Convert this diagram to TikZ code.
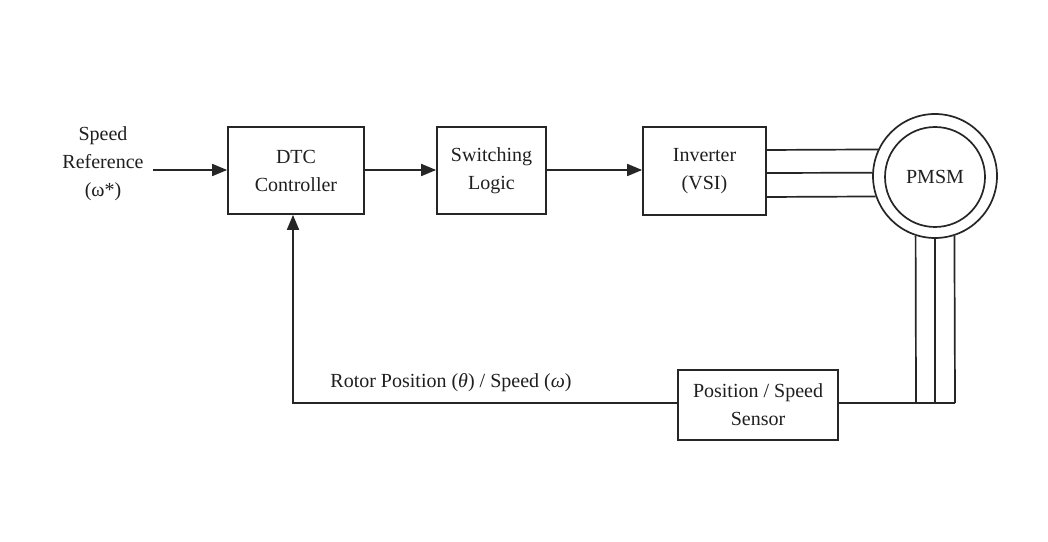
\documentclass[tikz,border=0pt]{standalone}
\usepackage{fontspec}
\setmainfont{Liberation Serif}
\usetikzlibrary{arrows.meta,calc}
\begin{document}
\begin{tikzpicture}[x=1pt,y=1pt,
  every node/.style={font=\fontsize{20}{28}\selectfont, text=black!88, align=center},
  blk/.style={draw, line width=1.7pt, inner sep=0pt},
  wire/.style={line width=1.7pt},
  sig/.style={line width=1.7pt, -{Triangle[length=15pt,width=12pt]}}]
  \useasboundingbox[fill=white] (0,0) rectangle (1048,541);
  \tikzset{every path/.append style={draw=black!85}}

  % blocks
  \node[blk, minimum width=136pt, minimum height=87pt] (dtc) at (296,370.5) {DTC\\Controller};
  \node[blk, minimum width=109pt, minimum height=87pt] (sw) at (491.5,370.5) {Switching\\Logic};
  \node[blk, minimum width=123pt, minimum height=88pt] (inv) at (704.5,370) {Inverter\\(VSI)};
  \node[blk, minimum width=160pt, minimum height=70pt] (sen) at (758,136) {Position / Speed\\Sensor};

  % motor: stator and rotor rings
  \node[draw, wire, circle, minimum size=124pt, inner sep=0pt] (mot) at (935,365) {};
  \node[draw, wire, circle, minimum size=100pt, inner sep=0pt] (rot) at (935,364) {PMSM};

  % input label and forward path
  \node (ref) at (103,377) {Speed\\Reference\\(ω*)};
  \coordinate (in) at (153,371);
  \draw[sig] (in) -- (in -| dtc.west);
  \draw[sig] (dtc.east |- in) -- (in -| sw.west);
  \draw[sig] (sw.east |- in) -- (in -| inv.west);

  % three-phase supply to the motor
  \draw[wire] (inv.east |- 0,391) -- (mot.155.2);
  \draw[wire] (inv.east |- 0,368) -- (mot.177.2);
  \draw[wire] (inv.east |- 0,344) -- (mot.199.8);

  % shaft connection down to the sensor
  \coordinate (fb) at (955,138);
  \draw[wire] (mot.252.2) -- (916,138);
  \draw[wire] (mot.270) -- (935,138);
  \draw[wire] (mot.288.8) -- (fb);
  \draw[wire] (fb) -- (sen.east |- fb);

  % feedback path
  \coordinate (fc) at (293,138);
  \draw[sig] (sen.west |- fb) -- (fc) -- (fc |- dtc.south);
  \node (lbl) at (451,158) {Rotor Position (\textit{θ}) / Speed (\textit{ω})};
\end{tikzpicture}
\end{document}
